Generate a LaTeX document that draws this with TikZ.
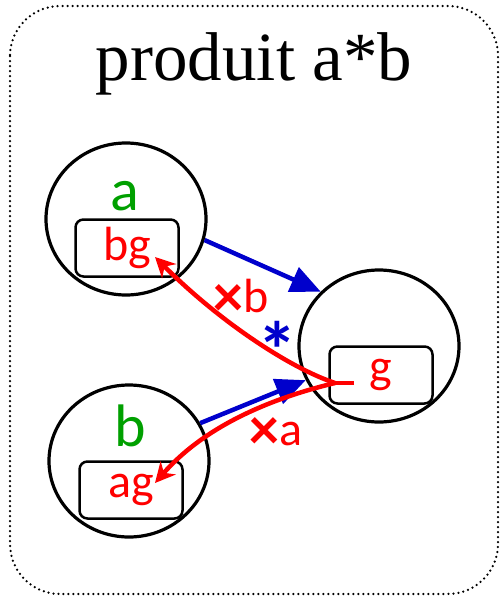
\documentclass[tikz,border=0pt]{standalone}
\usepackage{fontspec}
\setmainfont{Liberation Serif}
\setsansfont{Carlito}
\usetikzlibrary{arrows.meta,shapes.geometric}
\definecolor{vert}{RGB}{0,160,0}
\definecolor{bleu}{RGB}{0,0,204}
\definecolor{rouge}{RGB}{255,0,0}
\newcommand{\fois}{{\bfseries\fontsize{60}{60}\selectfont\raisebox{-4pt}{×}}}
\begin{document}
\begin{tikzpicture}[x=1pt,y=-1pt,
    objet/.style={draw,ellipse,line width=3.2pt,minimum width=160pt,minimum height=152pt,inner sep=0pt},
    champ/.style={draw,rounded corners=8pt,line width=2.5pt,minimum width=103pt,minimum height=57pt,inner sep=0pt,text=rouge,font=\sffamily\fontsize{48}{48}\selectfont},
    nom/.style={text=vert,anchor=base,font=\sffamily\fontsize{60}{60}\selectfont},
    envoi/.style={-{Triangle[length=30pt,width=26pt]},bleu,line width=4.5pt},
    retour/.style={-{Stealth[length=20pt,width=20pt]},rouge,line width=4.5pt},
    etiq/.style={text=rouge,font=\sffamily\fontsize{48}{48}\selectfont}]
  \useasboundingbox (0,0) rectangle (499,597);
  \draw[line width=2.5pt,line cap=round,dash pattern=on 0pt off 5pt,rounded corners=50pt] (10,6) rectangle (498,594);
  \node[anchor=base,font=\fontsize{69}{69}\selectfont] (titre) at (254,80) {produit a*b};
  % les trois objets
  \node[objet] (a) at (126,219) {};
  \node[objet] (b) at (129,461) {};
  \node[objet] (g) at (379,346) {};
  \node[nom] (na) at (125,210) {a};
  \node[nom] (nb) at (130,446) {b};
  \node[champ] (bg) at (127,248) {bg};
  \node[champ] (ag) at (131,490) {ag};
  \node[champ] (gv) at (381,375) {g};
  % envoi du message
  \draw[envoi] (a.-15) -- (g.137);
  \draw[envoi] (b.28) -- (g.205);
  \node[text=bleu,font=\sffamily\bfseries\fontsize{80}{80}\selectfont] (etoile) at (277,350) {*};
  % retours
  \coordinate (fourche) at (335,383);
  \draw[rouge,line width=4.5pt] ([shift={(-27,8)}]gv.center) -- (fourche);
  \draw[retour] (fourche) .. controls (290,368) and (220,322) .. ([shift={(28,9)}]bg.center);
  \draw[retour] (fourche) .. controls (285,395) and (210,420) .. ([shift={(24,-7)}]ag.center);
  \node[etiq] (xb) at (241,298) {\fois b};
  \node[etiq] (xa) at (276,433) {\fois a};
\end{tikzpicture}
\end{document}
